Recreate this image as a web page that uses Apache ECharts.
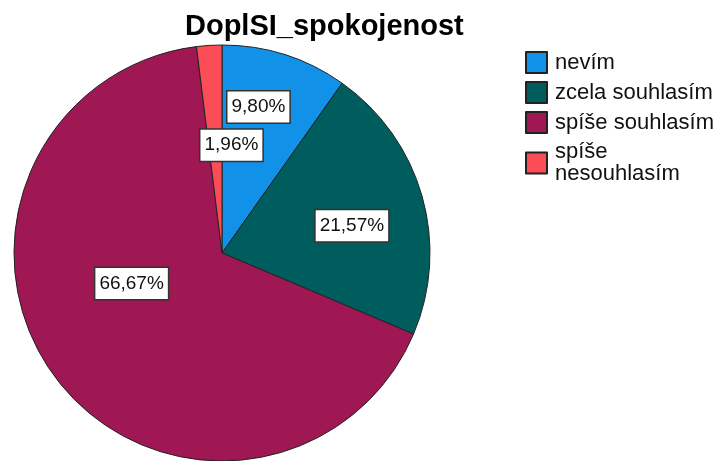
<!DOCTYPE html>
<html>
<head>
<meta charset="utf-8">
<script src="https://cdn.jsdelivr.net/npm/echarts@6/dist/echarts.min.js"></script>
<style>
  html, body { margin: 0; padding: 0; background: #fff; }
  #chart { width: 725px; height: 461px; }
</style>
</head>
<body>
<div id="chart"></div>
<script>
// kategorie a četnosti (N = 51)
const categories = ['nevím', 'zcela souhlasím', 'spíše souhlasím', 'spíše nesouhlasím'];
const counts = [5, 11, 34, 1];
const colors = ['#1192e8', '#005d5d', '#9f1853', '#fa4d56'];

// posun popisků oproti výchozí pozici "inside"
const labelShift = [[4, -44], [27, 2], [-5, -34], [16, -1]];

const total = counts.reduce((a, b) => a + b, 0);
const font = '"Liberation Sans", Arial, sans-serif';

const chart = echarts.init(document.getElementById('chart'));
chart.setOption({
    animation: false,
    title: {
        text: 'DoplSI_spokojenost',
        left: 180,
        top: 7,
        textStyle: { fontFamily: font, fontSize: 29, fontWeight: 'bold', color: '#000' }
    },
    legend: {
        orient: 'vertical',
        left: 520,
        top: 46,
        itemWidth: 21,
        itemHeight: 21,
        itemGap: 7,
        icon: 'rect',
        data: categories,
        formatter: function (name) {
            return name === 'spíše nesouhlasím' ? 'spíše\nnesouhlasím' : name;
        },
        textStyle: { fontFamily: font, fontSize: 22, lineHeight: 22, color: '#111', padding: [0, 0, 0, 3] }
    },
    series: [{
        type: 'pie',
        center: [222, 253],
        radius: 208,
        startAngle: 90,
        clockwise: true,
        avoidLabelOverlap: false,
        itemStyle: { borderColor: '#222', borderWidth: 1 },
        label: {
            position: 'inside',
            formatter: function (p) {
                return (p.value / total * 100).toFixed(2).replace('.', ',') + '%';
            },
            fontFamily: font,
            fontSize: 19,
            lineHeight: 21,
            color: '#111',
            backgroundColor: '#fff',
            borderColor: '#333',
            borderWidth: 1.5,
            padding: [5, 4]
        },
        labelLayout: function (params) {
            const s = labelShift[params.dataIndex];
            return { dx: s[0], dy: s[1] };
        },
        emphasis: { disabled: true },
        data: categories.map((c, i) => ({
            name: c,
            value: counts[i],
            itemStyle: { color: colors[i] }
        }))
    }]
});
</script>
</body>
</html>
